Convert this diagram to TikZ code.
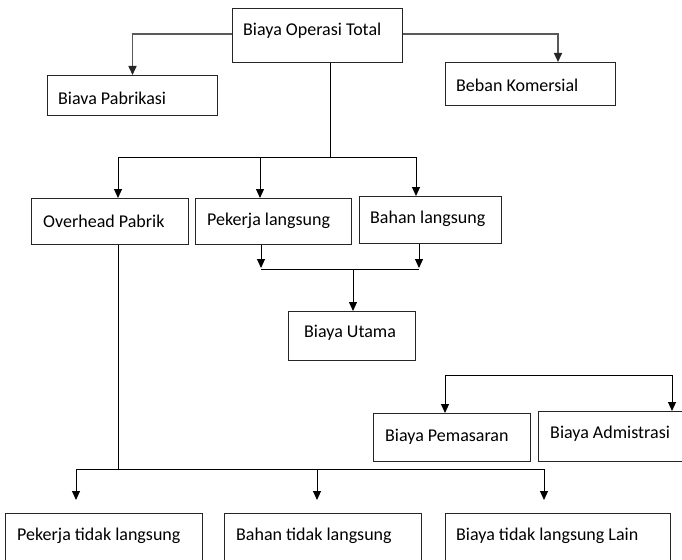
\documentclass[tikz,border=0pt]{standalone}
\usepackage{fontspec}
\setmainfont{Carlito}
\usetikzlibrary{arrows.meta,calc}
\begin{document}
\begin{tikzpicture}[x=1pt,y=-1pt,
  box/.style={draw=black!85,line width=1pt,inner sep=0pt,anchor=north west},
  lbl/.style={anchor=west,inner sep=0pt,text=black,font=\fontsize{18}{21}\selectfont},
  conn/.style={draw=black,line width=0.9pt},
  gconn/.style={draw=black!65,line width=1.6pt},
  tip/.style={-{Triangle[length=9pt,width=8pt]}},
  gtip/.style={-{Triangle[length=9pt,width=8pt,color=black!85]}}]
\useasboundingbox (0,0) rectangle (682,559);
% boxes
\node[box,minimum width=170,minimum height=54] (top) at (232,8) {};
\node[box,minimum width=170,minimum height=40] (pabrik) at (47,75) {};
\node[box,minimum width=170,minimum height=43] (komersial) at (445,62) {};
\node[box,minimum width=157,minimum height=46] (overhead) at (31,198) {};
\node[box,minimum width=156,minimum height=46] (pekerja) at (195,198) {};
\node[box,minimum width=142,minimum height=47] (bahan) at (359,196) {};
\node[box,minimum width=127,minimum height=49] (utama) at (288,311) {};
\node[box,minimum width=157,minimum height=48] (pemasaran) at (373,413) {};
\node[box,minimum width=160,minimum height=50] (admin) at (538,411) {};
\node[box,minimum width=197,minimum height=60] (ptl) at (5,513) {};
\node[box,minimum width=197,minimum height=60] (btl) at (224,513) {};
\node[box,minimum width=225,minimum height=60] (lain) at (445,513) {};
% labels
\node[lbl] (lTop) at (243,31) {Biaya Operasi Total};
\node[lbl] (lPabrik) at (58,98) {Biava Pabrikasi};
\node[lbl] (lKom) at (456,85) {Beban Komersial};
\node[lbl] (lOver) at (43,221) {Overhead Pabrik};
\node[lbl] (lPek) at (207,221) {Pekerja langsung};
\node[lbl] (lBah) at (370,219) {Bahan langsung};
\node[lbl] (lUt) at (304,333) {Biaya Utama};
\node[lbl] (lPem) at (385,437) {Biaya Pemasaran};
\node[lbl] (lAdm) at (550,434) {Biaya Admistrasi};
\node[lbl] (lPtl) at (17,536) {Pekerja tidak langsung};
\node[lbl] (lBtl) at (236,536) {Bahan tidak langsung};
\node[lbl] (lLain) at (456,536) {Biaya tidak langsung Lain};
% top connectors
\coordinate (p1) at (132,34);
\coordinate (k1) at (558,34);
\draw[gconn,gtip] (top.west |- p1) -| (pabrik.north);
\draw[gconn,gtip] (top.east |- k1) -| (komersial.north -| k1);
% centre branch
\coordinate (j0) at (330,157);
\coordinate (b1) at (118,157);
\coordinate (b2) at (260,157);
\coordinate (b3) at (416,157);
\draw[conn] (top.south -| j0) -- (j0);
\draw[conn] (b1) -- (b3);
\draw[conn,tip] (b1) -- (overhead.north -| b1);
\draw[conn,tip] (b2) -- (pekerja.north -| b2);
\draw[conn,tip] (b3) -- (bahan.north -| b3);
% to Biaya Utama
\coordinate (c1) at (261,268);
\coordinate (c2) at (419,268);
\coordinate (c3) at (353,269);
\draw[conn,tip] (pekerja.south -| c1) -- (c1);
\draw[conn,tip] (bahan.south -| c2) -- (c2);
\draw[conn] ($(c1)+(0,1)$) -- ($(c2)+(0,1)$);
\draw[conn,tip] (c3) -- (utama.north -| c3);
% pemasaran / admistrasi
\coordinate (m1) at (445,375);
\coordinate (m2) at (672,375);
\draw[conn] (m1) -- (m2);
\draw[conn,tip] (m1) -- (pemasaran.north -| m1);
\draw[conn,tip] (m2) -- (admin.north -| m2);
% overhead to bottom row
\coordinate (d0) at (118,469);
\coordinate (d1) at (76,469);
\coordinate (d2) at (317,469);
\coordinate (d3) at (544,469);
\coordinate (e1) at (76,500);
\coordinate (e2) at (317,500);
\coordinate (e3) at (544,500);
\draw[conn] (overhead.south -| d0) -- (d0);
\draw[conn] (d1) -- (d3);
\draw[conn,tip] (d1) -- (e1);
\draw[conn,tip] (d2) -- (e2);
\draw[conn,tip] (d3) -- (e3);
\end{tikzpicture}
\end{document}
